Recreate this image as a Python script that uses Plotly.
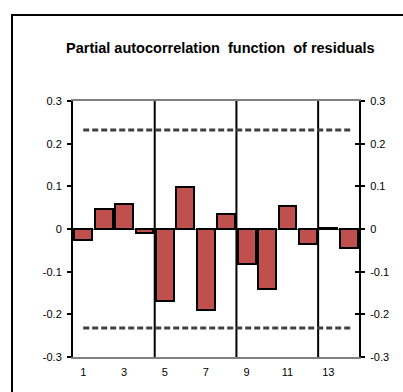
import plotly.graph_objects as go

# Partial autocorrelations of the model residuals, lags 1..14
lags = list(range(1, 15))
pacf = [-0.026, 0.046, 0.059, -0.009, -0.168, 0.098, -0.191,
        0.034, -0.082, -0.141, 0.053, -0.034, 0.003, -0.045]
conf_bound = 0.232          # approximate 95% significance band
season_breaks = [4.5, 8.5, 12.5]
x_ticks = [1, 3, 5, 7, 9, 11, 13]
y_ticks = [-0.3, -0.2, -0.1, 0, 0.1, 0.2, 0.3]
y_labels = ["-0.3", "-0.2", "-0.1", "0", "0.1", "0.2", "0.3"]

W, H = 403, 392
ml, mr, mt, mb = 73, 44, 101, 35
pw, ph = W - ml - mr, H - mt - mb

font_family = "Arial, 'Liberation Sans', sans-serif"

fig = go.Figure()

# Vertical separators between seasonal blocks
for xb in season_breaks:
    fig.add_trace(go.Scatter(
        x=[xb, xb], y=[y_ticks[0], y_ticks[-1]], mode="lines",
        line=dict(color="black", width=2), hoverinfo="skip", showlegend=False))

fig.add_trace(go.Bar(
    x=lags, y=pacf, width=0.88,
    marker=dict(color="#C0504D", line=dict(color="black", width=2)),
    showlegend=False))

# Significance band
for sign in (1, -1):
    fig.add_trace(go.Scatter(
        x=[lags[0], lags[-1] + 0.14], y=[sign * conf_bound] * 2, mode="lines",
        line=dict(color="#404040", width=3, dash="6px,3px"),
        hoverinfo="skip", showlegend=False))

# Dummy traces to activate the right-hand axes
for ax in ("y2", "y3"):
    fig.add_trace(go.Scatter(x=[lags[0]], y=[0], yaxis=ax, mode="markers",
                             marker=dict(opacity=0), hoverinfo="skip", showlegend=False))

# Outer chart frame
fig.add_shape(type="rect", xref="paper", yref="paper",
              x0=(12 - ml) / pw, x1=(W + 5 - ml) / pw,
              y0=-(H + 5 - (H - mb)) / ph, y1=(H - mb - 15) / ph,
              line=dict(color="black", width=2), fillcolor="rgba(0,0,0,0)", layer="below")

fig.add_annotation(
    text="<b>Partial autocorrelation  function  of residuals</b>",
    xref="paper", yref="paper", x=(220 - ml) / pw, y=(H - mb - 48) / ph,
    showarrow=False, xanchor="center", yanchor="middle",
    font=dict(family=font_family, size=14.5, color="black"))

axis_font = dict(family=font_family, size=11, color="black")

fig.update_layout(
    width=W, height=H,
    margin=dict(l=ml, r=mr, t=mt, b=mb, pad=0),
    paper_bgcolor="white", plot_bgcolor="white",
    bargap=0,
    xaxis=dict(range=[0.5, 14.5], tickvals=x_ticks, ticktext=[str(v) for v in x_ticks],
               showgrid=False, zeroline=False, showline=True, linecolor="#808080",
               linewidth=2, mirror=True, ticks="", tickfont=axis_font, ticklabelstandoff=4),
    yaxis=dict(range=[-0.3, 0.3], tickvals=y_ticks, ticktext=y_labels,
               showgrid=False, zeroline=True, zerolinecolor="#2F5F5F", zerolinewidth=1,
               showline=True, linecolor="black", linewidth=2,
               ticks="outside", ticklen=4, tickwidth=2, tickcolor="black",
               tickfont=axis_font, ticklabelstandoff=3),
    yaxis2=dict(range=[-0.3, 0.3], tickvals=y_ticks, ticktext=y_labels,
                overlaying="y", side="right", anchor="x",
                showgrid=False, zeroline=False,
                showline=True, linecolor="black", linewidth=2,
                ticks="outside", ticklen=4, tickwidth=2, tickcolor="black",
                tickfont=axis_font, ticklabelstandoff=3),
    yaxis3=dict(range=[-0.3, 0.3], tickvals=y_ticks, showticklabels=False,
                overlaying="y", side="right", anchor="x",
                showgrid=False, zeroline=False, showline=False,
                ticks="inside", ticklen=4, tickwidth=2, tickcolor="black"),
)

fig.write_html("out.html")
